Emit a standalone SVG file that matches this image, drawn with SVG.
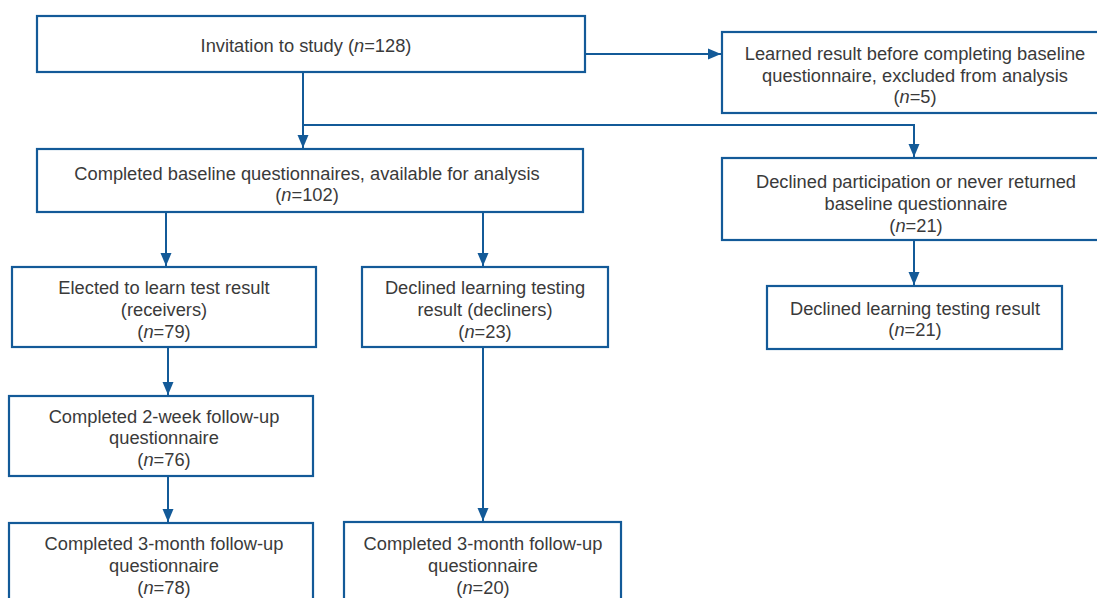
<svg xmlns="http://www.w3.org/2000/svg" width="1097" height="598" viewBox="0 0 1097 598">
<style>
.box{fill:#fff;stroke:#135a98;stroke-width:2.2}
.t{font-family:"Liberation Sans",Arial,sans-serif;font-size:18.3px;fill:#3a3a3a;text-anchor:middle}
.c{fill:none;stroke:#135a98;stroke-width:2}
</style>
<defs>
<marker id="ah" markerUnits="userSpaceOnUse" markerWidth="14" markerHeight="12" refX="13" refY="6" orient="auto">
<path d="M0,0.5 L13,6 L0,11.5 z" fill="#135a98"/>
</marker>
</defs>
<rect width="1097" height="598" fill="#fff"/>
<g id="connectors">
<path class="c" d="M585,54 H721" marker-end="url(#ah)"/>
<path class="c" d="M303,72 V148" marker-end="url(#ah)"/>
<path class="c" d="M303,125 H914 V157" marker-end="url(#ah)"/>
<path class="c" d="M166,212 V266" marker-end="url(#ah)"/>
<path class="c" d="M483,212 V266" marker-end="url(#ah)"/>
<path class="c" d="M914,240 V285" marker-end="url(#ah)"/>
<path class="c" d="M168,347 V395" marker-end="url(#ah)"/>
<path class="c" d="M168,476 V522" marker-end="url(#ah)"/>
<path class="c" d="M483,347 V521" marker-end="url(#ah)"/>
</g>
<g id="invitation">
<rect class="box" x="37" y="16" width="548" height="56"/>
<text class="t" x="306" y="51.5">Invitation to study (<tspan font-style="italic">n</tspan>=128)</text>
</g>
<g id="learned">
<rect class="box" x="722" y="32" width="390" height="81"/>
<text class="t" x="915" y="60">Learned result before completing baseline</text>
<text class="t" x="915" y="81.5">questionnaire, excluded from analysis</text>
<text class="t" x="915" y="103">(<tspan font-style="italic">n</tspan>=5)</text>
</g>
<g id="baseline">
<rect class="box" x="37" y="149" width="546" height="63"/>
<text class="t" x="307" y="180">Completed baseline questionnaires, available for analysis</text>
<text class="t" x="307" y="201">(<tspan font-style="italic">n</tspan>=102)</text>
</g>
<g id="declined-participation">
<rect class="box" x="722" y="158" width="390" height="82"/>
<text class="t" x="916" y="188">Declined participation or never returned</text>
<text class="t" x="916" y="210">baseline questionnaire</text>
<text class="t" x="916" y="232">(<tspan font-style="italic">n</tspan>=21)</text>
</g>
<g id="elected">
<rect class="box" x="12" y="267" width="304" height="80"/>
<text class="t" x="164" y="294">Elected to learn test result</text>
<text class="t" x="164" y="316">(receivers)</text>
<text class="t" x="164" y="338">(<tspan font-style="italic">n</tspan>=79)</text>
</g>
<g id="decliners">
<rect class="box" x="362" y="267" width="246" height="80"/>
<text class="t" x="485" y="294">Declined learning testing</text>
<text class="t" x="485" y="316">result (decliners)</text>
<text class="t" x="485" y="338">(<tspan font-style="italic">n</tspan>=23)</text>
</g>
<g id="declined-learning">
<rect class="box" x="767" y="286" width="295" height="63"/>
<text class="t" x="915" y="315">Declined learning testing result</text>
<text class="t" x="915" y="336">(<tspan font-style="italic">n</tspan>=21)</text>
</g>
<g id="followup-2week">
<rect class="box" x="9" y="396" width="304" height="80"/>
<text class="t" x="164" y="423">Completed 2-week follow-up</text>
<text class="t" x="164" y="444">questionnaire</text>
<text class="t" x="164" y="466">(<tspan font-style="italic">n</tspan>=76)</text>
</g>
<g id="followup-3month-receivers">
<rect class="box" x="9" y="523" width="304" height="90"/>
<text class="t" x="164" y="550">Completed 3-month follow-up</text>
<text class="t" x="164" y="572">questionnaire</text>
<text class="t" x="164" y="594">(<tspan font-style="italic">n</tspan>=78)</text>
</g>
<g id="followup-3month-decliners">
<rect class="box" x="344" y="522" width="277" height="90"/>
<text class="t" x="483" y="550">Completed 3-month follow-up</text>
<text class="t" x="483" y="572">questionnaire</text>
<text class="t" x="483" y="594">(<tspan font-style="italic">n</tspan>=20)</text>
</g>
</svg>
